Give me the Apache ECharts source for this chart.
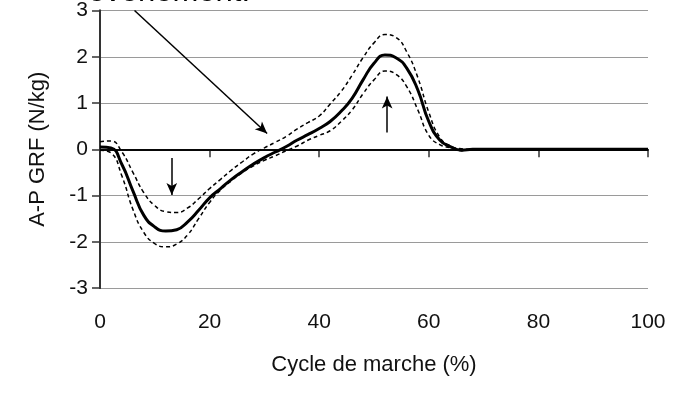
<!DOCTYPE html>
<html>
<head>
<meta charset="utf-8">
<script src="https://cdn.jsdelivr.net/npm/echarts@6/dist/echarts.min.js"></script>
<style>
  html, body { margin: 0; padding: 0; background: #fff; }
  #chart { width: 700px; height: 398px; }
</style>
</head>
<body>
<div id="chart"></div>
<script>
// cycle de marche (%)
const cycle = [0, 2, 4, 6, 8, 10, 12, 14, 16, 18, 20, 22, 24, 26, 28, 30, 32, 34, 36, 38, 40,
  42, 44, 46, 48, 50, 52, 54, 56, 58, 60, 62, 64, 66, 68, 70, 80, 90, 100]

// moyenne (N/kg)
const mean = [0.05, 0.03, -0.33, -0.9, -1.43, -1.68, -1.77, -1.74, -1.57, -1.32, -1.05,
  -0.85, -0.65, -0.48, -0.32, -0.18, -0.06, 0.06, 0.2, 0.32, 0.45,
  0.6, 0.82, 1.1, 1.5, 1.86, 2.04, 1.98, 1.75, 1.28, 0.6, 0.2, 0.05, -0.02, 0, 0, 0, 0, 0]

// moyenne + écart-type
const upper = [0.16, 0.18, -0.06, -0.5, -0.94, -1.22, -1.35, -1.37, -1.27, -1.07, -0.85,
  -0.65, -0.45, -0.27, -0.1, 0.03, 0.15, 0.28, 0.44, 0.58, 0.72,
  0.98, 1.25, 1.6, 1.98, 2.3, 2.48, 2.42, 2.1, 1.55, 0.8, 0.26, 0.07, 0.01, 0, 0, 0, 0, 0]

// moyenne - écart-type
const lower = [-0.02, -0.08, -0.58, -1.3, -1.8, -2.04, -2.11, -2.05, -1.85, -1.5, -1.15,
  -0.88, -0.68, -0.5, -0.36, -0.24, -0.14, -0.03, 0.07, 0.2, 0.3,
  0.4, 0.6, 0.85, 1.2, 1.5, 1.69, 1.62, 1.35, 0.85, 0.3, 0.1, 0.03, -0.03, 0, 0, 0, 0, 0]

// flèches d'annotation [x1, y1, x2, y2]
const arrows = [
  [6.3, 3, 30.5, 0.34],
  [13.1, -0.19, 13.1, -0.99],
  [52.4, 0.36, 52.4, 1.14],
]

const font = 'Liberation Sans, Arial, sans-serif'
const toPairs = ys => cycle.map((x, i) => [x, ys[i]])

const myChart = echarts.init(document.getElementById('chart'))

const option = {
  animation: false,
  grid: { left: 100, right: 52, top: 9, bottom: 110 },
  graphic: [{
    type: 'text',
    left: 88,
    top: -23,
    style: { text: 'événement.', font: `31px ${font}`, fill: '#000' },
  }],
  xAxis: [{
    type: 'value',
    min: 0,
    max: 100,
    interval: 20,
    name: 'Cycle de marche (%)',
    nameLocation: 'middle',
    nameGap: 66,
    nameTextStyle: { fontFamily: font, fontSize: 22, color: '#111' },
    axisLine: { lineStyle: { color: '#333', width: 2 } },
    axisTick: { inside: false, length: 8, lineStyle: { color: '#333', width: 1.5 } },
    axisLabel: { fontFamily: font, fontSize: 21, color: '#111', margin: 24 },
    splitLine: { show: false },
  }, {
    type: 'value',
    position: 'top',
    min: 0,
    max: 100,
    axisLine: { show: true, lineStyle: { color: '#222', width: 2 } },
    axisTick: { show: false },
    axisLabel: { show: false },
    splitLine: { show: false },
  }],
  yAxis: [{
    type: 'value',
    min: -3,
    max: 3,
    interval: 1,
    name: 'A-P GRF (N/kg)',
    nameLocation: 'middle',
    nameGap: 51,
    nameTextStyle: { fontFamily: font, fontSize: 22, color: '#111' },
    axisLine: { show: true, lineStyle: { color: '#333', width: 2 } },
    axisTick: { show: true, length: 8, lineStyle: { color: '#333', width: 1.5 } },
    axisLabel: { fontFamily: font, fontSize: 21, color: '#111', margin: 12 },
    splitLine: { lineStyle: { color: '#9a9a9a', width: 1 } },
  }, {
    type: 'value',
    position: 'right',
    min: -3,
    max: 3,
    axisLine: { show: true, lineStyle: { color: '#333', width: 2 } },
    axisTick: { show: false },
    axisLabel: { show: false },
    splitLine: { show: false },
  }],
  series: [{
    name: 'moyenne + ET',
    type: 'line',
    smooth: true,
    symbol: 'none',
    lineStyle: { color: '#000', width: 1.5, type: [4, 3] },
    data: toPairs(upper),
  }, {
    name: 'moyenne - ET',
    type: 'line',
    smooth: true,
    symbol: 'none',
    lineStyle: { color: '#000', width: 1.5, type: [4, 3] },
    data: toPairs(lower),
  }, {
    name: 'moyenne',
    type: 'line',
    smooth: true,
    symbol: 'none',
    z: 5,
    lineStyle: { color: '#000', width: 3 },
    data: toPairs(mean),
    markLine: {
      silent: true,
      symbol: 'none',
      label: { show: false },
      lineStyle: { color: '#000', width: 1.5, type: 'solid' },
      data: [{ yAxis: 0 }],
    },
  }, {
    name: 'flèches',
    type: 'line',
    data: [],
    markLine: {
      silent: true,
      symbol: ['none', 'arrow'],
      symbolSize: [8, 12],
      label: { show: false },
      lineStyle: { color: '#000', width: 1.5, type: 'solid' },
      data: arrows.map(a => [{ coord: [a[0], a[1]] }, { coord: [a[2], a[3]] }]),
    },
  }],
}

myChart.setOption(option)
</script>
</body>
</html>
